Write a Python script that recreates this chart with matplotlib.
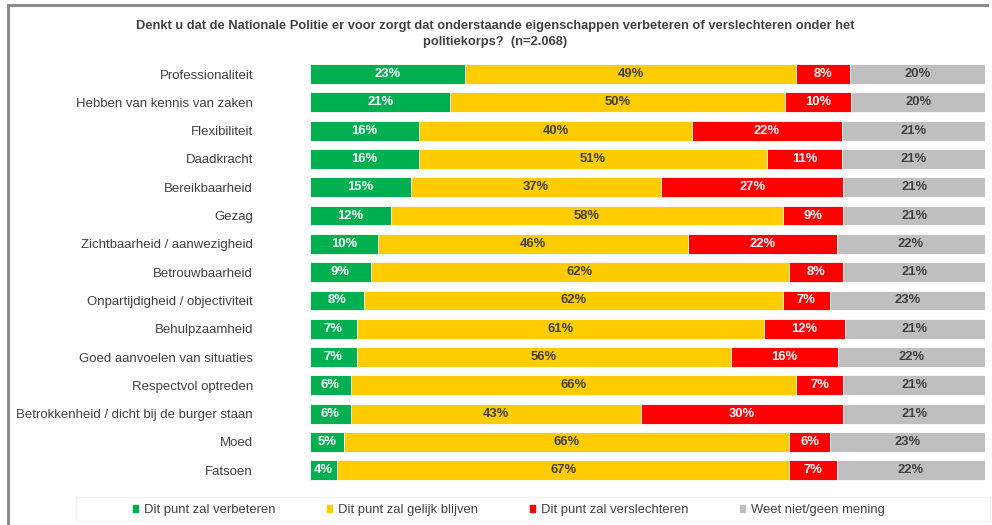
import matplotlib
matplotlib.use("Agg")
import matplotlib.pyplot as plt
from matplotlib.lines import Line2D
from matplotlib.patches import Rectangle
import numpy as np

plt.rcParams['font.family'] = ['Liberation Sans', 'DejaVu Sans']

categories = [
    "Professionaliteit",
    "Hebben van kennis van zaken",
    "Flexibiliteit",
    "Daadkracht",
    "Bereikbaarheid",
    "Gezag",
    "Zichtbaarheid / aanwezigheid",
    "Betrouwbaarheid",
    "Onpartijdigheid / objectiviteit",
    "Behulpzaamheid",
    "Goed aanvoelen van situaties",
    "Respectvol optreden",
    "Betrokkenheid / dicht bij de burger staan",
    "Moed",
    "Fatsoen",
]
verbeteren = [23, 21, 16, 16, 15, 12, 10, 9, 8, 7, 7, 6, 6, 5, 4]
gelijk = [49, 50, 40, 51, 37, 58, 46, 62, 62, 61, 56, 66, 43, 66, 67]
verslechteren = [8, 10, 22, 11, 27, 9, 22, 8, 7, 12, 16, 7, 30, 6, 7]
weet_niet = [20, 20, 21, 21, 21, 21, 22, 21, 23, 21, 22, 21, 21, 23, 22]

series_labels = ["Dit punt zal verbeteren", "Dit punt zal gelijk blijven",
                 "Dit punt zal verslechteren", "Weet niet/geen mening"]
colors = ["#00B050", "#FFCC00", "#FF0000", "#BFBFBF"]
text_colors = ["white", "#404040", "white", "#404040"]

title = ("Denkt u dat de Nationale Politie er voor zorgt dat onderstaande eigenschappen verbeteren of verslechteren onder het\n"
         "politiekorps?  (n=2.068)")

W, H = 992, 525
fig = plt.figure(figsize=(W / 100, H / 100), dpi=100)
fig.patch.set_facecolor("white")

ax = fig.add_axes([310 / W, 1 - 484.4 / H, (985 - 310) / W, (484.4 - 59.9) / H])

# 100% stacked: each row scaled to its own total (rounded answers may add to 99-101)
series = [np.array(s, dtype=float) for s in (verbeteren, gelijk, verslechteren, weet_niet)]
totals = sum(series)
y = np.arange(len(categories))
left = np.zeros(len(categories))
for vals, col, tcol, lab in zip(series, colors, text_colors, series_labels):
    share = vals / totals * 100
    ax.barh(y, share, left=left, height=0.7, color=col, label=lab,
            edgecolor="white", linewidth=0.6)
    for yi, l, s, v in zip(y, left, share, vals):
        ax.text(l + s / 2, yi, f"{int(v)}%", ha="center", va="center",
                color=tcol, fontsize=9.4, fontweight="bold")
    left += share

ax.set_xlim(0, 100)
ax.set_ylim(len(categories) - 0.5, -0.5)
ax.set_yticks(y)
ax.set_yticklabels(categories, fontsize=9.5, color="#404040")
ax.tick_params(axis="y", length=0, pad=41)
ax.set_xticks([])
for s in ax.spines.values():
    s.set_visible(False)

fig.text(495 / W, 1 - 34 / H, title, ha="center", va="center",
         fontsize=9.3, fontweight="bold", color="#404040", linespacing=1.38)

# outer frame
fig.add_artist(Line2D([8 / W, 987 / W], [1 - 5 / H, 1 - 5 / H], color="#8C8C8C", lw=2.2))
fig.add_artist(Line2D([8 / W, 8 / W], [0, 1 - 5 / H], color="#8C8C8C", lw=2.2))

# faint legend area
fig.add_artist(Rectangle((76 / W, 1 - 521 / H), (990 - 76) / W, 24 / H,
                         transform=fig.transFigure, facecolor="none",
                         edgecolor="#F0F0F0", lw=0.8))

handles = [Rectangle((0, 0), 1, 1, color=c) for c in colors]
leg = fig.legend(handles, series_labels, loc="center", bbox_to_anchor=(509 / W, 1 - 510 / H),
                 ncol=4, fontsize=9.4, frameon=False, handlelength=0.4, handleheight=0.4,
                 handletextpad=0.45, columnspacing=3.95, borderpad=0.3)
for t in leg.get_texts():
    t.set_color("#404040")

fig.savefig("out.png", dpi=100, facecolor="white")
